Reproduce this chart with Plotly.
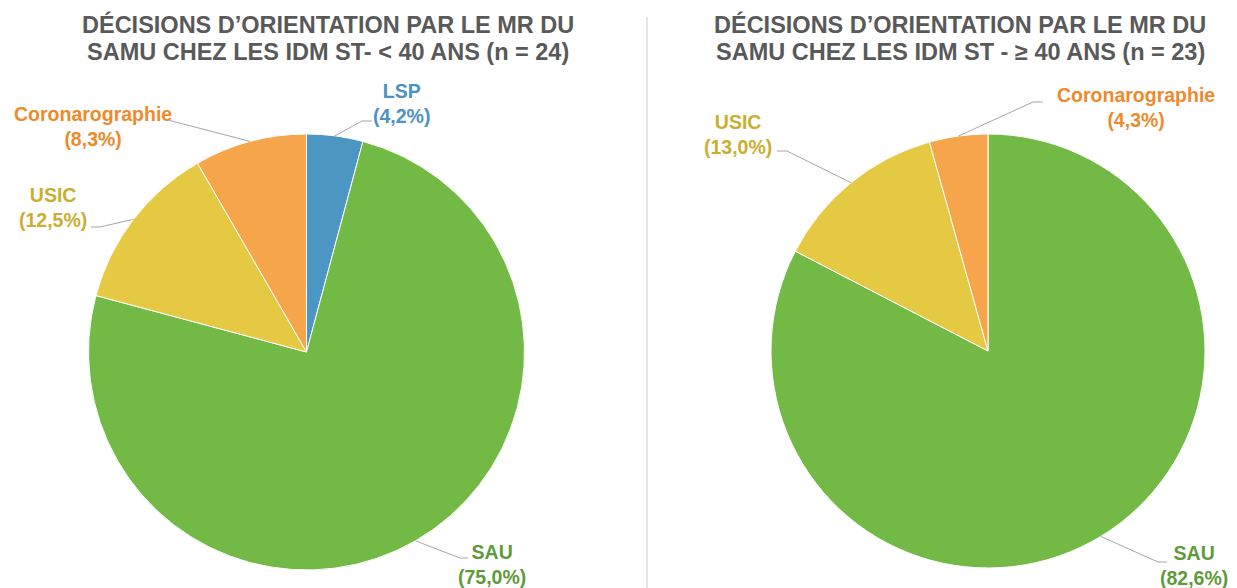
import math
import plotly.graph_objects as go

W, H = 1237, 588
OFF = 8  # the page body margin shifts the figure by 8px

# left chart: < 40 ans (n = 24)
left_labels = ["LSP", "SAU", "USIC", "Coronarographie"]
left_counts = [1, 18, 3, 2]
left_pct = ["4,2%", "75,0%", "12,5%", "8,3%"]

# right chart: >= 40 ans (n = 23)
right_labels = ["SAU", "USIC", "Coronarographie"]
right_counts = [19, 3, 1]
right_pct = ["82,6%", "13,0%", "4,3%"]

colors = {"LSP": "#4b96c3", "SAU": "#72b945", "USIC": "#e5c943", "Coronarographie": "#f6a54a"}
text_colors = {"LSP": "#4a92c4", "SAU": "#5e9a3a", "USIC": "#c9ae30", "Coronarographie": "#ee8a2c"}

left_title = ["DÉCISIONS D’ORIENTATION PAR LE MR DU", "SAMU CHEZ LES IDM ST- < 40 ANS (n = 24)"]
right_title = ["DÉCISIONS D’ORIENTATION PAR LE MR DU", "SAMU CHEZ LES IDM ST - ≥ 40 ANS (n = 23)"]

# pie geometry in screen pixels (centre x, centre y, radius)
left_geo = (306.5, 352, 218)
right_geo = (988, 351, 217)

# label centres and leader-line elbows (screen pixels)
left_label_pos = {"LSP": (402, 104), "SAU": (492, 564), "USIC": (53, 207), "Coronarographie": (93, 127)}
left_elbows = {"LSP": [(362, 121), (372, 121)], "SAU": [(460, 558), (468, 558)],
               "USIC": [(100, 227), (91, 227)], "Coronarographie": [(168, 120)]}
right_label_pos = {"SAU": (1194, 565), "USIC": (738, 134), "Coronarographie": (1136, 107)}
right_elbows = {"SAU": [(1158, 562), (1167, 562)], "USIC": [(787, 151), (777, 151)],
                "Coronarographie": [(1033, 102), (1043, 102)]}


def px(x, y):
    return (x - OFF) / W, 1 - (y - OFF) / H


def domain(geo):
    cx, cy, r = geo
    x0, y1 = px(cx - r, cy - r)
    x1, y0 = px(cx + r, cy + r)
    return dict(x=[x0, x1], y=[y0, y1])


fig = go.Figure()
for labels, counts, geo in [(left_labels, left_counts, left_geo), (right_labels, right_counts, right_geo)]:
    fig.add_trace(go.Pie(
        labels=labels, values=counts, sort=False, direction="clockwise", rotation=0,
        marker=dict(colors=[colors[l] for l in labels], line=dict(color="white", width=1)),
        textinfo="none", hoverinfo="label+percent", domain=domain(geo), showlegend=False,
    ))

annotations = []
shapes = []
for labels, counts, pcts, geo, pos, elbows in [
    (left_labels, left_counts, left_pct, left_geo, left_label_pos, left_elbows),
    (right_labels, right_counts, right_pct, right_geo, right_label_pos, right_elbows),
]:
    cx, cy, r = geo
    total = sum(counts)
    cum = 0
    for lab, c, p in zip(labels, counts, pcts):
        mid = (cum + c / 2) / total * 2 * math.pi
        cum += c
        sx, sy = cx + r * math.sin(mid), cy - r * math.cos(mid)
        pts = [(sx, sy)] + elbows[lab]
        path = "M " + " L ".join("%.4f,%.4f" % px(x, y) for x, y in pts)
        shapes.append(dict(type="path", path=path, xref="paper", yref="paper",
                           line=dict(color="#a6a6a6", width=1)))
        ax, ay = px(*pos[lab])
        annotations.append(dict(
            text="%s<br>(%s)" % (lab, p), x=ax, y=ay, xref="paper", yref="paper",
            xanchor="center", yanchor="middle", showarrow=False, align="center",
            font=dict(family="Liberation Sans, Arial", size=19.5, color=text_colors[lab], weight="bold"),
        ))

# titles, one annotation per line to keep the tight line spacing
for title, tx in [(left_title, 327.5), (right_title, 960)]:
    for line, ty in zip(title, [25, 52]):
        x, y = px(tx, ty)
        annotations.append(dict(
            text=line, x=x, y=y, xref="paper", yref="paper", xanchor="center", yanchor="middle",
            showarrow=False,
            font=dict(family="Liberation Sans, Arial", size=23.5, color="#595959", weight="bold"),
        ))

# divider between the two charts
dx, dy0 = px(647, 17)
_, dy1 = px(647, 600)
shapes.append(dict(type="line", xref="paper", yref="paper", x0=dx, x1=dx, y0=dy1, y1=dy0,
                   line=dict(color="#dcdcdc", width=1.5)))

fig.update_layout(
    width=W, height=H, margin=dict(l=0, r=0, t=0, b=0),
    paper_bgcolor="white", plot_bgcolor="white",
    annotations=annotations, shapes=shapes,
)

fig.write_html("out.html")
